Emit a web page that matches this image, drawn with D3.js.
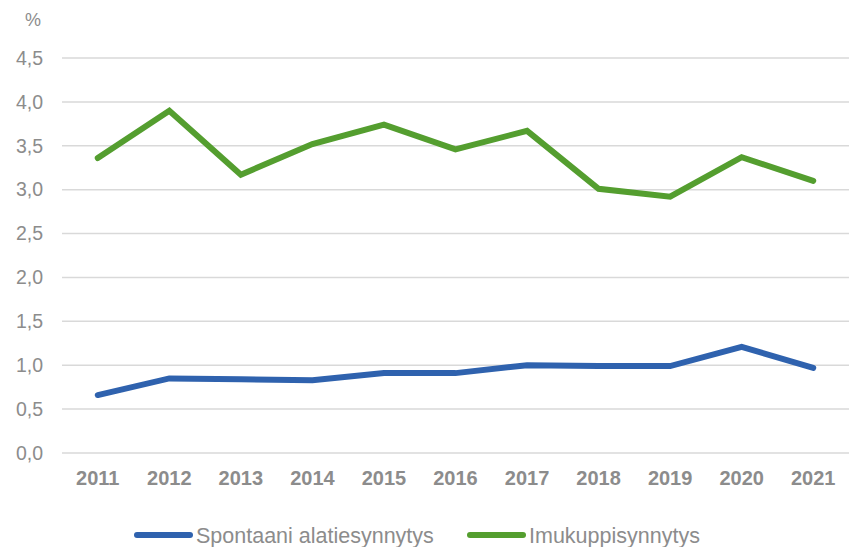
<!DOCTYPE html>
<html><head><meta charset="utf-8">
<script src="https://cdn.jsdelivr.net/npm/d3@7"></script>
<style>body{margin:0;background:#fff}svg{display:block}text{font-family:"Liberation Sans",Arial,sans-serif}</style>
</head><body><svg id="c" width="857" height="547"></svg>
<script>
const years = ["2011","2012","2013","2014","2015","2016","2017","2018","2019","2020","2021"];
const spontaani = [0.66,0.85,0.84,0.83,0.91,0.91,1.00,0.99,0.99,1.21,0.97];
const imukuppi = [3.36,3.90,3.17,3.52,3.74,3.46,3.67,3.01,2.92,3.37,3.10];
const seriesNames = ["Spontaani alatiesynnytys","Imukuppisynnytys"];
const seriesColors = ["#2F62AE","#549E2F"];
const yTicks = [0,0.5,1,1.5,2,2.5,3,3.5,4,4.5];

const svg = d3.select("#c");
const x = d3.scaleBand().domain(years).range([62,849]);
const y = d3.scaleLinear().domain([0,4.5]).range([453,58]);
const fmt = d => d3.format(".1f")(d).replace(".", ",");

svg.append("g").selectAll("line").data(yTicks).join("line")
  .attr("x1",62).attr("x2",849).attr("y1",d=>y(d)).attr("y2",d=>y(d))
  .attr("stroke","#d9d9d9").attr("stroke-width",1.5);

svg.append("g").selectAll("text").data(yTicks).join("text")
  .attr("x",43).attr("y",d=>y(d)).attr("dy","0.35em").attr("text-anchor","end")
  .attr("font-size",19.5).attr("fill","#8c8c8c").text(fmt);

svg.append("text").attr("x",33).attr("y",26).attr("text-anchor","middle")
  .attr("font-size",18).attr("fill","#8c8c8c").text("%");

svg.append("g").selectAll("text").data(years).join("text")
  .attr("x",d=>x(d)+x.bandwidth()/2).attr("y",478).attr("dy","0.35em").attr("text-anchor","middle")
  .attr("font-size",20).attr("font-weight","bold").attr("fill","#8c8c8c").text(d=>d);

const line = d3.line().x((d,i)=>x(years[i])+x.bandwidth()/2).y(d=>y(d));
[spontaani, imukuppi].forEach((s,k)=>{
  svg.append("path").datum(s).attr("d",line).attr("fill","none")
    .attr("stroke",seriesColors[k]).attr("stroke-width",6)
    .attr("stroke-linecap","round").attr("stroke-linejoin","miter");
});

const lg = [{x:137},{x:470}];
seriesNames.forEach((n,k)=>{
  const g = svg.append("g");
  g.append("line").attr("x1",lg[k].x).attr("x2",lg[k].x+53).attr("y1",535).attr("y2",535)
    .attr("stroke",seriesColors[k]).attr("stroke-width",6).attr("stroke-linecap","round");
  g.append("text").attr("x",lg[k].x+59).attr("y",535).attr("dy","0.35em")
    .attr("font-size",21.5).attr("fill","#8c8c8c").text(n);
});
</script></body></html>
